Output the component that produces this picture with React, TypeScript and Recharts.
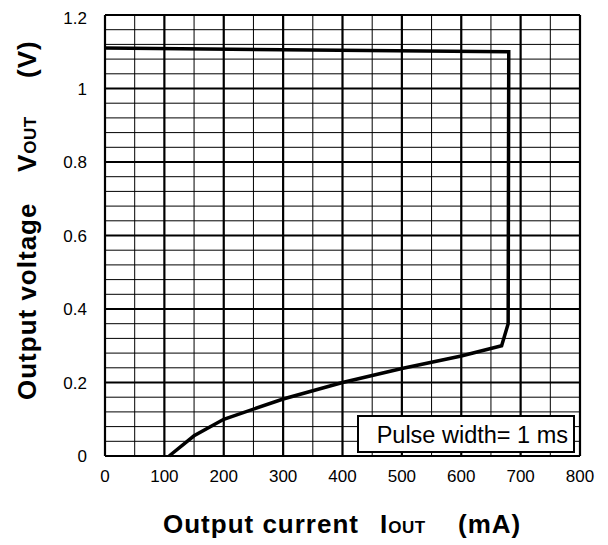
import React from 'react'
import { LineChart, Line, XAxis, YAxis, ReferenceLine } from 'recharts'

// output current (mA) vs output voltage (V), pulse width 1 ms
const currentMA = [0, 680, 679, 668, 600, 500, 400, 300, 200, 150, 108]
const voltageV = [1.11, 1.1, 0.36, 0.3, 0.272, 0.238, 0.2, 0.155, 0.1, 0.055, 0]

const xTicks = [0, 100, 200, 300, 400, 500, 600, 700, 800]
const yTicks = [0, 0.2, 0.4, 0.6, 0.8, 1, 1.2]
const xMinorGrid = [50, 150, 250, 350, 450, 550, 650, 750]
const yMinorGrid = [
  0.04, 0.08, 0.12, 0.16, 0.24, 0.28, 0.32, 0.36, 0.44, 0.48, 0.52, 0.56, 0.64, 0.68, 0.72, 0.76,
  0.84, 0.88, 0.92, 0.96, 1.04, 1.08, 1.12, 1.16,
]

const data = currentMA.map((x, i) => ({ x, v: voltageV[i] }))

const FONT = 'Arial, "Liberation Sans", sans-serif'
const TITLE = { fontFamily: FONT, fontWeight: 'bold' as const, fontSize: 26, letterSpacing: 1, fill: '#000' }

function XTitle() {
  const y = 525
  return (
    <text y={y} {...TITLE}>
      <tspan x={155}>Output current</tspan>
      <tspan x={372}>I</tspan>
      <tspan fontSize={17} letterSpacing={0.5}>OUT</tspan>
      <tspan x={450}>(mA)</tspan>
    </text>
  )
}

function YTitle() {
  const x0 = 28
  const y0 = 392
  return (
    <text x={x0} y={y0} transform={`rotate(-90 ${x0} ${y0})`} {...TITLE}>
      <tspan x={x0}>Output voltage</tspan>
      <tspan x={x0 + 228}>V</tspan>
      <tspan fontSize={17} letterSpacing={0.5}>OUT</tspan>
      <tspan x={x0 + 322}>(V)</tspan>
    </text>
  )
}

export default function App() {
  return (
    <div style={{ position: 'relative', width: 600, height: 537 }}>
      <LineChart width={600} height={537} data={data} margin={{ top: 7, right: 28, bottom: 59, left: 37 }}>
        {xMinorGrid.map((v) => (
          <ReferenceLine key={`xm${v}`} x={v} stroke="#000" strokeWidth={1} />
        ))}
        {yMinorGrid.map((v) => (
          <ReferenceLine key={`ym${v}`} y={v} stroke="#000" strokeWidth={1} />
        ))}
        {xTicks.map((v) => (
          <ReferenceLine key={`xM${v}`} x={v} stroke="#000" strokeWidth={2.2} />
        ))}
        {yTicks.map((v) => (
          <ReferenceLine key={`yM${v}`} y={v} stroke="#000" strokeWidth={2.2} />
        ))}
        <XAxis
          dataKey="x"
          type="number"
          domain={[0, 800]}
          ticks={xTicks}
          height={30}
          axisLine={false}
          tickLine={false}
          tickSize={6}
          tickMargin={8}
          tick={{ fill: '#000', fontSize: 17, fontFamily: FONT }}
          label={{ content: XTitle }}
        />
        <YAxis
          type="number"
          domain={[0, 1.2]}
          ticks={yTicks}
          width={60}
          axisLine={false}
          tickLine={false}
          tickSize={6}
          tickMargin={12}
          tick={{ fill: '#000', fontSize: 17, fontFamily: FONT }}
          label={{ content: YTitle }}
        />
        <Line
          dataKey="v"
          type="linear"
          stroke="#000"
          strokeWidth={3.5}
          dot={false}
          isAnimationActive={false}
        />
      </LineChart>
      <div
        style={{
          position: 'absolute',
          left: 349,
          top: 407,
          width: 214,
          height: 34,
          border: '2px solid #000',
          background: '#fff',
          fontFamily: FONT,
          fontSize: 23.5,
          lineHeight: '36px',
          color: '#000',
          whiteSpace: 'nowrap',
        }}
      >
        <span style={{ position: 'absolute', right: 5, top: 0 }}>Pulse width= 1 ms</span>
      </div>
    </div>
  )
}
